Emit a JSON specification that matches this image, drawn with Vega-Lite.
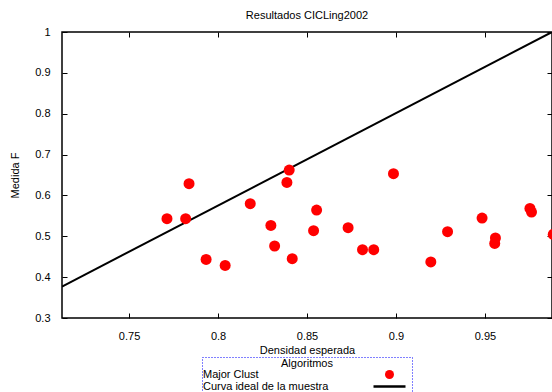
{
  "$schema": "https://vega.github.io/schema/vega-lite/v6.json",
  "width": 490,
  "height": 286,
  "autosize": "none",
  "padding": {"left": 62, "top": 32, "right": 0, "bottom": 74},
  "title": {"text": "Resultados CICLing2002", "fontSize": 11, "fontWeight": "normal", "font": "Liberation Sans", "color": "#000000", "anchor": "middle", "offset": 5},
  "config": {
    "view": {"stroke": "#000000", "strokeWidth": 1.5},
    "axis": {"labelFont": "Liberation Sans", "titleFont": "Liberation Sans", "labelFontSize": 11, "titleFontSize": 11, "titleFontWeight": "normal", "labelColor": "#000000", "titleColor": "#000000", "tickColor": "#000000", "grid": false, "domain": false, "tickSize": -5, "tickWidth": 1},
    "legend": {"strokeColor": "#0000ff", "strokeDash": [1, 2], "strokeWidth": 1, "symbolSize": 81}
  },
  "datasets": {
    "puntos": [
      {"densidad": 0.7713, "medida": 0.543, "serie": "Major Clust"},
      {"densidad": 0.7818, "medida": 0.543, "serie": "Major Clust"},
      {"densidad": 0.7837, "medida": 0.6287, "serie": "Major Clust"},
      {"densidad": 0.7933, "medida": 0.4434, "serie": "Major Clust"},
      {"densidad": 0.804, "medida": 0.4287, "serie": "Major Clust"},
      {"densidad": 0.8181, "medida": 0.5797, "serie": "Major Clust"},
      {"densidad": 0.8297, "medida": 0.5266, "serie": "Major Clust"},
      {"densidad": 0.8318, "medida": 0.4762, "serie": "Major Clust"},
      {"densidad": 0.84, "medida": 0.6622, "serie": "Major Clust"},
      {"densidad": 0.8387, "medida": 0.6319, "serie": "Major Clust"},
      {"densidad": 0.8417, "medida": 0.4451, "serie": "Major Clust"},
      {"densidad": 0.8554, "medida": 0.5643, "serie": "Major Clust"},
      {"densidad": 0.8537, "medida": 0.5137, "serie": "Major Clust"},
      {"densidad": 0.8731, "medida": 0.521, "serie": "Major Clust"},
      {"densidad": 0.8812, "medida": 0.4672, "serie": "Major Clust"},
      {"densidad": 0.8875, "medida": 0.4672, "serie": "Major Clust"},
      {"densidad": 0.8986, "medida": 0.6532, "serie": "Major Clust"},
      {"densidad": 0.9196, "medida": 0.4371, "serie": "Major Clust"},
      {"densidad": 0.929, "medida": 0.5112, "serie": "Major Clust"},
      {"densidad": 0.9484, "medida": 0.5447, "serie": "Major Clust"},
      {"densidad": 0.9559, "medida": 0.4958, "serie": "Major Clust"},
      {"densidad": 0.9555, "medida": 0.4826, "serie": "Major Clust"},
      {"densidad": 0.9753, "medida": 0.5682, "serie": "Major Clust"},
      {"densidad": 0.9762, "medida": 0.5594, "serie": "Major Clust"},
      {"densidad": 0.9884, "medida": 0.5046, "serie": "Major Clust"}
    ],
    "curva": [
      {"densidad": 0.7123, "medida": 0.377, "serie": "Curva ideal de la muestra"},
      {"densidad": 0.9877, "medida": 1.0, "serie": "Curva ideal de la muestra"}
    ]
  },
  "layer": [
    {
      "data": {"name": "curva"},
      "mark": {"type": "line", "strokeWidth": 2, "clip": true},
      "encoding": {
        "x": {"field": "densidad", "type": "quantitative", "scale": {"domain": [0.7123, 0.9877], "nice": false, "zero": false},
              "axis": {"orient": "bottom", "values": [0.75, 0.8, 0.85, 0.9, 0.95], "format": ".2~f", "title": "Densidad esperada", "labelPadding": 17, "titlePadding": 3}},
        "y": {"field": "medida", "type": "quantitative", "scale": {"domain": [0.3, 1.0], "nice": false, "zero": false},
              "axis": {"orient": "left", "values": [0.3, 0.4, 0.5, 0.6, 0.7, 0.8, 0.9, 1.0], "format": "~g", "title": "Medida F", "labelPadding": 17, "titlePadding": 14}},
        "color": {"field": "serie", "type": "nominal",
                  "scale": {"domain": ["Major Clust", "Curva ideal de la muestra"], "range": ["#ff0000", "#000000"]},
                  "legend": {
                    "title": "Algoritmos", "orient": "none", "legendX": 140, "legendY": 325,
                    "titleFont": "Liberation Sans", "titleFontSize": 11, "titleFontWeight": "normal", "titleColor": "#000000", "titleAnchor": "middle", "titlePadding": 0,
                    "labelFont": "Liberation Sans", "labelFontSize": 11, "labelColor": "#000000", "labelOffset": -192,
                    "symbolOffset": 181, "rowPadding": 0, "padding": 1,
                    "encode": {
                      "symbols": {"update": {
                        "shape": {"signal": "datum.value === 'Major Clust' ? 'circle' : 'M-4,0H4'"},
                        "size": {"signal": "datum.value === 'Major Clust' ? 81 : 64"},
                        "fill": {"signal": "datum.value === 'Major Clust' ? '#ff0000' : 'transparent'"},
                        "stroke": {"signal": "datum.value === 'Major Clust' ? 'transparent' : '#000000'"},
                        "strokeWidth": {"signal": "datum.value === 'Major Clust' ? 0 : 2.5"},
                        "opacity": {"value": 1}
                      }}
                    }
                  }}
      }
    },
    {
      "data": {"name": "puntos"},
      "mark": {"type": "point", "shape": "circle", "filled": true, "opacity": 1, "size": 121, "clip": true},
      "encoding": {
        "x": {"field": "densidad", "type": "quantitative",
              "axis": {"orient": "top", "values": [0.75, 0.8, 0.85, 0.9, 0.95], "labels": false, "title": null}},
        "y": {"field": "medida", "type": "quantitative",
              "axis": {"orient": "right", "values": [0.3, 0.4, 0.5, 0.6, 0.7, 0.8, 0.9, 1.0], "labels": false, "title": null}},
        "color": {"field": "serie", "type": "nominal"}
      }
    }
  ],
  "resolve": {"axis": {"x": "independent", "y": "independent"}}
}
